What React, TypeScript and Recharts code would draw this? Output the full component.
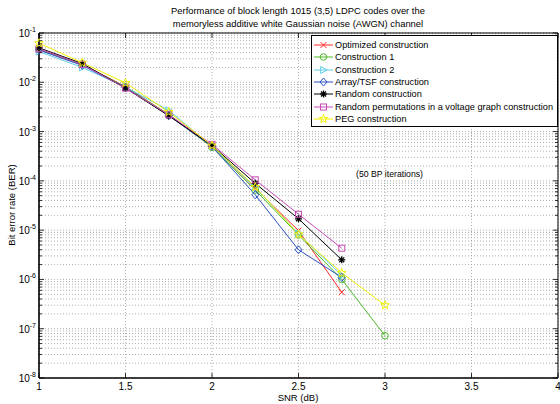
import { LineChart, Line, XAxis, YAxis, CartesianGrid } from 'recharts';

const FONT = '"Liberation Sans", Arial, Helvetica, sans-serif';

// SNR points (dB)
const snr = [1, 1.25, 1.5, 1.75, 2, 2.25, 2.5, 2.75, 3];

// BER values, null = not simulated
const optimized = [0.046, 0.023, 0.0082, 0.0022, 0.00052, 7.0e-5, 9.8e-6, 5.5e-7, null];
const construction1 = [0.047, 0.023, 0.008, 0.0022, 0.00048, 6.5e-5, 8.0e-6, 1.0e-6, 7.2e-8];
const construction2 = [0.042, 0.02, 0.008, 0.0027, 0.0005, 7.2e-5, 8.5e-6, 1.2e-6, null];
const arrayTsf = [0.045, 0.022, 0.0078, 0.0021, 0.0005, 5.2e-5, 4.0e-6, 1.1e-6, null];
const randomC = [0.05, 0.024, 0.0076, 0.0021, 0.00052, 8.9e-5, 1.7e-5, 2.5e-6, null];
const voltage = [0.048, 0.023, 0.0076, 0.0022, 0.00055, 1.05e-4, 2.1e-5, 4.3e-6, null];
const peg = [0.062, 0.025, 0.0097, 0.0025, 0.00052, 7.5e-5, 8.2e-6, 1.35e-6, 3.0e-7];

const xTicks = [1, 1.5, 2, 2.5, 3, 3.5, 4];
const decades = [-8, -7, -6, -5, -4, -3, -2, -1];
const yTicks: number[] = [];
decades.forEach((e) => {
  for (let k = 1; k <= 9; k++) {
    if (e === -1 && k > 1) break;
    yTicks.push(k * Math.pow(10, e));
  }
});

const series = [
  { key: 'opt', name: 'Optimized construction', values: optimized, color: '#ff2a2a', shape: 'x' },
  { key: 'c1', name: 'Construction 1', values: construction1, color: '#4cbb2a', shape: 'circle' },
  { key: 'c2', name: 'Construction 2', values: construction2, color: '#5ccbe8', shape: 'triangle' },
  { key: 'arr', name: 'Array/TSF construction', values: arrayTsf, color: '#2a4fc0', shape: 'diamond' },
  { key: 'rnd', name: 'Random construction', values: randomC, color: '#000000', shape: 'asterisk' },
  { key: 'volt', name: 'Random permutations in a voltage graph construction', values: voltage, color: '#c84cb4', shape: 'square' },
  { key: 'peg', name: 'PEG construction', values: peg, color: '#f0f000', shape: 'star' },
];

const data = snr.map((x, i) => {
  const row: Record<string, number | null> = { snr: x };
  series.forEach((s) => {
    row[s.key] = s.values[i];
  });
  return row;
});

function Marker({ shape, cx, cy, color }: { shape: string; cx: number; cy: number; color: string }) {
  const s = 3.5;
  const common = { fill: 'none', stroke: color, strokeWidth: 1 };
  switch (shape) {
    case 'x':
      return (
        <g {...common}>
          <line x1={cx - s + 0.5} y1={cy - s + 0.5} x2={cx + s - 0.5} y2={cy + s - 0.5} />
          <line x1={cx - s + 0.5} y1={cy + s - 0.5} x2={cx + s - 0.5} y2={cy - s + 0.5} />
        </g>
      );
    case 'circle':
      return <circle cx={cx} cy={cy} r={3.3} {...common} />;
    case 'triangle':
      return (
        <polygon
          points={`${cx + s},${cy} ${cx - s * 0.8},${cy - s} ${cx - s * 0.8},${cy + s}`}
          {...common}
        />
      );
    case 'diamond':
      return (
        <polygon points={`${cx},${cy - s - 0.5} ${cx + s},${cy} ${cx},${cy + s + 0.5} ${cx - s},${cy}`} {...common} />
      );
    case 'asterisk': {
      const lines = [0, 45, 90, 135].map((a) => {
        const r = (a * Math.PI) / 180;
        return (
          <line
            key={a}
            x1={cx - s * Math.cos(r)}
            y1={cy - s * Math.sin(r)}
            x2={cx + s * Math.cos(r)}
            y2={cy + s * Math.sin(r)}
          />
        );
      });
      return <g {...common} strokeWidth={1.3}>{lines}</g>;
    }
    case 'square':
      return <rect x={cx - 3} y={cy - 3} width={6} height={6} {...common} />;
    case 'star': {
      const pts: string[] = [];
      for (let i = 0; i < 10; i++) {
        const r = i % 2 === 0 ? 4.5 : 1.9;
        const a = -Math.PI / 2 + (i * Math.PI) / 5;
        pts.push(`${cx + r * Math.cos(a)},${cy + r * Math.sin(a)}`);
      }
      return <polygon points={pts.join(' ')} {...common} />;
    }
    default:
      return null;
  }
}

const isDecade = (v: number) => Math.abs(Math.log10(v) - Math.round(Math.log10(v))) < 1e-6;

function LeftTick(props: any) {
  const { x, y, payload } = props;
  const v = payload.value;
  const major = isDecade(v);
  return (
    <g>
      <line x1={x} x2={x + (major ? 5 : 3)} y1={y} y2={y} stroke="#000" strokeWidth={0.8} />
      {major && (
        <text x={x - 3} y={y + 4} textAnchor="end" fontSize={10} fontFamily={FONT} fill="#000">
          10
          <tspan dy={-5} fontSize={7}>
            {'-' + Math.abs(Math.round(Math.log10(v)))}
          </tspan>
        </text>
      )}
    </g>
  );
}

function RightTick(props: any) {
  const { x, y, payload } = props;
  const major = isDecade(payload.value);
  return <line x1={x} x2={x - (major ? 5 : 3)} y1={y} y2={y} stroke="#000" strokeWidth={0.8} />;
}

function BottomTick(props: any) {
  const { x, y, payload } = props;
  return (
    <g>
      <line x1={x} x2={x} y1={y} y2={y - 5} stroke="#000" strokeWidth={0.8} />
      <text x={x} y={y + 12} textAnchor="middle" fontSize={10} fontFamily={FONT} fill="#000">
        {payload.value}
      </text>
    </g>
  );
}

function TopTick(props: any) {
  const { x, y } = props;
  return <line x1={x} x2={x} y1={y} y2={y + 5} stroke="#000" strokeWidth={0.8} />;
}

function LegendBox() {
  return (
    <div
      style={{
        position: 'absolute',
        left: 311,
        top: 35,
        width: 247,
        height: 92,
        border: '1px solid #000',
        background: '#fff',
        fontFamily: FONT,
        fontSize: 9.2,
        boxSizing: 'border-box',
      }}
    >
      {series.map((s, i) => (
        <div
          key={s.key}
          style={{ position: 'absolute', left: 1, top: 3 + i * 12.3, height: 12, display: 'flex', alignItems: 'center', whiteSpace: 'nowrap' }}
        >
          <svg width={21} height={12} style={{ marginRight: 1 }}>
            <line x1={1} x2={20} y1={6} y2={6} stroke={s.color} strokeWidth={1} />
            <Marker shape={s.shape} cx={10.5} cy={6} color={s.color} />
          </svg>
          <span style={{ color: '#000' }}>{s.name}</span>
        </div>
      ))}
    </div>
  );
}

export default function App() {
  return (
    <div style={{ position: 'absolute', left: 0, top: 0, width: 560, height: 404, background: '#fff' }}>
      <LineChart width={560} height={404} data={data} margin={{ top: 32, right: 1, bottom: 6, left: 9 }}>
        <CartesianGrid stroke="#9a9a9a" strokeDasharray="1 2" strokeWidth={0.8} />
        <XAxis
          dataKey="snr"
          type="number"
          domain={[1, 4]}
          ticks={xTicks}
          height={20}
          tickSize={0}
          tickMargin={0}
          tickLine={false}
          tick={<BottomTick />}
          axisLine={{ stroke: '#000', strokeWidth: 1.6 }}
          interval={0}
        />
        <XAxis
          xAxisId="t"
          orientation="top"
          dataKey="snr"
          type="number"
          domain={[1, 4]}
          ticks={xTicks}
          height={1}
          tickSize={0}
          tickMargin={0}
          tickLine={false}
          tick={<TopTick />}
          axisLine={{ stroke: '#000', strokeWidth: 1 }}
          interval={0}
        />
        <YAxis
          type="number"
          scale="log"
          domain={[1e-8, 0.1]}
          allowDataOverflow
          ticks={yTicks}
          width={30}
          tickSize={0}
          tickMargin={0}
          tickLine={false}
          tick={<LeftTick />}
          axisLine={{ stroke: '#000', strokeWidth: 1.6 }}
          interval={0}
        />
        <YAxis
          yAxisId="r"
          orientation="right"
          type="number"
          scale="log"
          domain={[1e-8, 0.1]}
          allowDataOverflow
          ticks={yTicks}
          width={1}
          tickSize={0}
          tickMargin={0}
          tickLine={false}
          tick={<RightTick />}
          axisLine={{ stroke: '#000', strokeWidth: 1 }}
          interval={0}
        />
        {series.map((s) => (
          <Line
            key={s.key}
            dataKey={s.key}
            name={s.name}
            stroke={s.color}
            strokeWidth={1}
            isAnimationActive={false}
            connectNulls={false}
            dot={(p: any) =>
              p.cy == null || p.value == null ? (
                <g key={`${s.key}-${p.index}`} />
              ) : (
                <Marker key={`${s.key}-${p.index}`} shape={s.shape} cx={p.cx} cy={p.cy} color={s.color} />
              )
            }
            activeDot={false}
          />
        ))}
      </LineChart>
      <svg width={560} height={404} style={{ position: 'absolute', left: 0, top: 0, pointerEvents: 'none' }}>
        <text x={298} y={14} textAnchor="middle" fontSize={9.4} fontFamily={FONT} fill="#000">
          Performance of block length 1015 (3,5) LDPC codes over the
        </text>
        <text x={298} y={27} textAnchor="middle" fontSize={9.4} fontFamily={FONT} fill="#000">
          memoryless additive white Gaussian noise (AWGN) channel
        </text>
        <text
          x={15}
          y={205}
          textAnchor="middle"
          fontSize={9.5}
          fontFamily={FONT}
          fill="#000"
          transform="rotate(-90 15 205)"
        >
          Bit error rate (BER)
        </text>
        <text x={298} y={401} textAnchor="middle" fontSize={9.5} fontFamily={FONT} fill="#000">
          SNR (dB)
        </text>
        <text x={356} y={177} fontSize={8.7} fontFamily={FONT} fill="#000">
          (50 BP iterations)
        </text>
      </svg>
      <LegendBox />
    </div>
  );
}
